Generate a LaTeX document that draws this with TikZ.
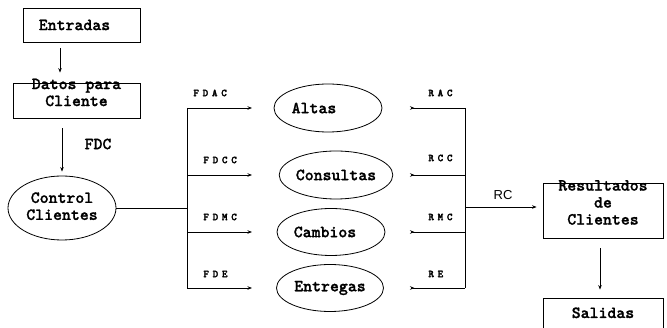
\documentclass[tikz,border=0pt]{standalone}
\usepackage{fontspec}
\newfontfamily\typefont{lmmonolt10-bold.otf}[FakeBold=1.2]
\newfontfamily\tagfont{lmmonolt10-bold.otf}[LetterSpace=36, FakeBold=2.5]
\newfontfamily\handfont{Liberation Sans}
\usetikzlibrary{arrows.meta,shapes.geometric}

\begin{document}
\begin{tikzpicture}[x=1pt,y=-1pt,
  every path/.style={line width=0.8pt},
  txt/.style={font=\typefont\fontsize{17}{17}\selectfont, inner sep=0pt},
  box/.style={txt, draw, rectangle},
  proc/.style={txt, draw, ellipse},
  tag/.style={font=\tagfont\fontsize{10.5}{10.5}\selectfont, anchor=west, inner sep=0pt},
  arr/.style={-{Stealth[length=4.5pt,width=3.5pt]}},
  revarr/.style={{Stealth[reversed,length=4.5pt,width=3.5pt]}-}]
\useasboundingbox (0,0) rectangle (667,328);

% input side
\node[box, minimum width=117pt, minimum height=34pt] (ent) at (81.5,25) {\hspace*{-14pt}Entradas};
\node[box, minimum width=127pt, minimum height=35pt] (datos) at (76.5,100.5)
  {\smash{\raisebox{2pt}{\begin{tabular}{@{}c@{}}Datos para\\Cliente\end{tabular}}}};
\node[proc, minimum width=108pt, minimum height=64pt] (ctrl) at (62,208)
  {\begin{tabular}{@{}c@{}}Control\\Clientes\end{tabular}};
\coordinate (spine) at (60,0);
\draw[arr, shorten <=6pt, shorten >=10pt] (ent.south -| spine) -- (datos.north -| spine);
\draw[arr, shorten <=10pt, shorten >=4pt] (datos.south -| ctrl.north) -- (ctrl.north);
\node[txt] at (98,144) {FDC};

% processes
\node[proc, minimum width=108pt, minimum height=48pt] (altas) at (328,108) {\hspace*{-28pt}Altas};
\node[proc, minimum width=110pt, minimum height=48pt] (cons) at (336,175) {Consultas};
\node[proc, minimum width=108pt, minimum height=47pt] (camb) at (331,232) {\hspace*{-12pt}Cambios};
\node[proc, minimum width=107pt, minimum height=47pt] (entr) at (330,288) {Entregas};

% distribution bus
\coordinate (busL) at (187,0);
\coordinate (inL) at (252,0);
\draw (ctrl.east) -- (busL |- ctrl.east);
\draw (busL |- altas) -- (busL |- entr);
\foreach \p in {altas,cons,camb,entr}
  \draw[arr] (busL |- \p) -- (inL |- \p);
\node[tag] at (193,93) {FDAC};
\node[tag] at (203,160) {FDCC};
\node[tag] at (203,217) {FDMC};
\node[tag] at (203,274) {FDE};

% collection bus
\coordinate (outL) at (410,0);
\coordinate (busR) at (465,0);
\foreach \p in {altas,cons,camb,entr}
  \draw[revarr] (outL |- \p) -- (busR |- \p);
\draw (busR |- altas) -- (busR |- entr);
\node[tag] at (428,93) {RAC};
\node[tag] at (428,158) {RCC};
\node[tag] at (428,217) {RMC};
\node[tag] at (428,274) {RE};

% output side
\node[box, minimum width=120pt, minimum height=55pt] (res) at (603,210.5)
  {\smash{\raisebox{2pt}{\begin{tabular}{@{}c@{}}Resultados\\de\\Clientes\end{tabular}}}};
\node[box, minimum width=120pt, minimum height=40pt] (sal) at (603,318)
  {\smash{\raisebox{0pt}{Salidas}}};
\draw[arr, shorten >=6pt] (busR |- 0,207) -- (res.west |- 0,207);
\node[font=\handfont\fontsize{13}{13}\selectfont, inner sep=0pt] at (503,195) {RC};
\draw[arr, shorten <=10pt, shorten >=8pt] (res.south -| 600,0) -- (sal.north -| 600,0);
\end{tikzpicture}
\end{document}
